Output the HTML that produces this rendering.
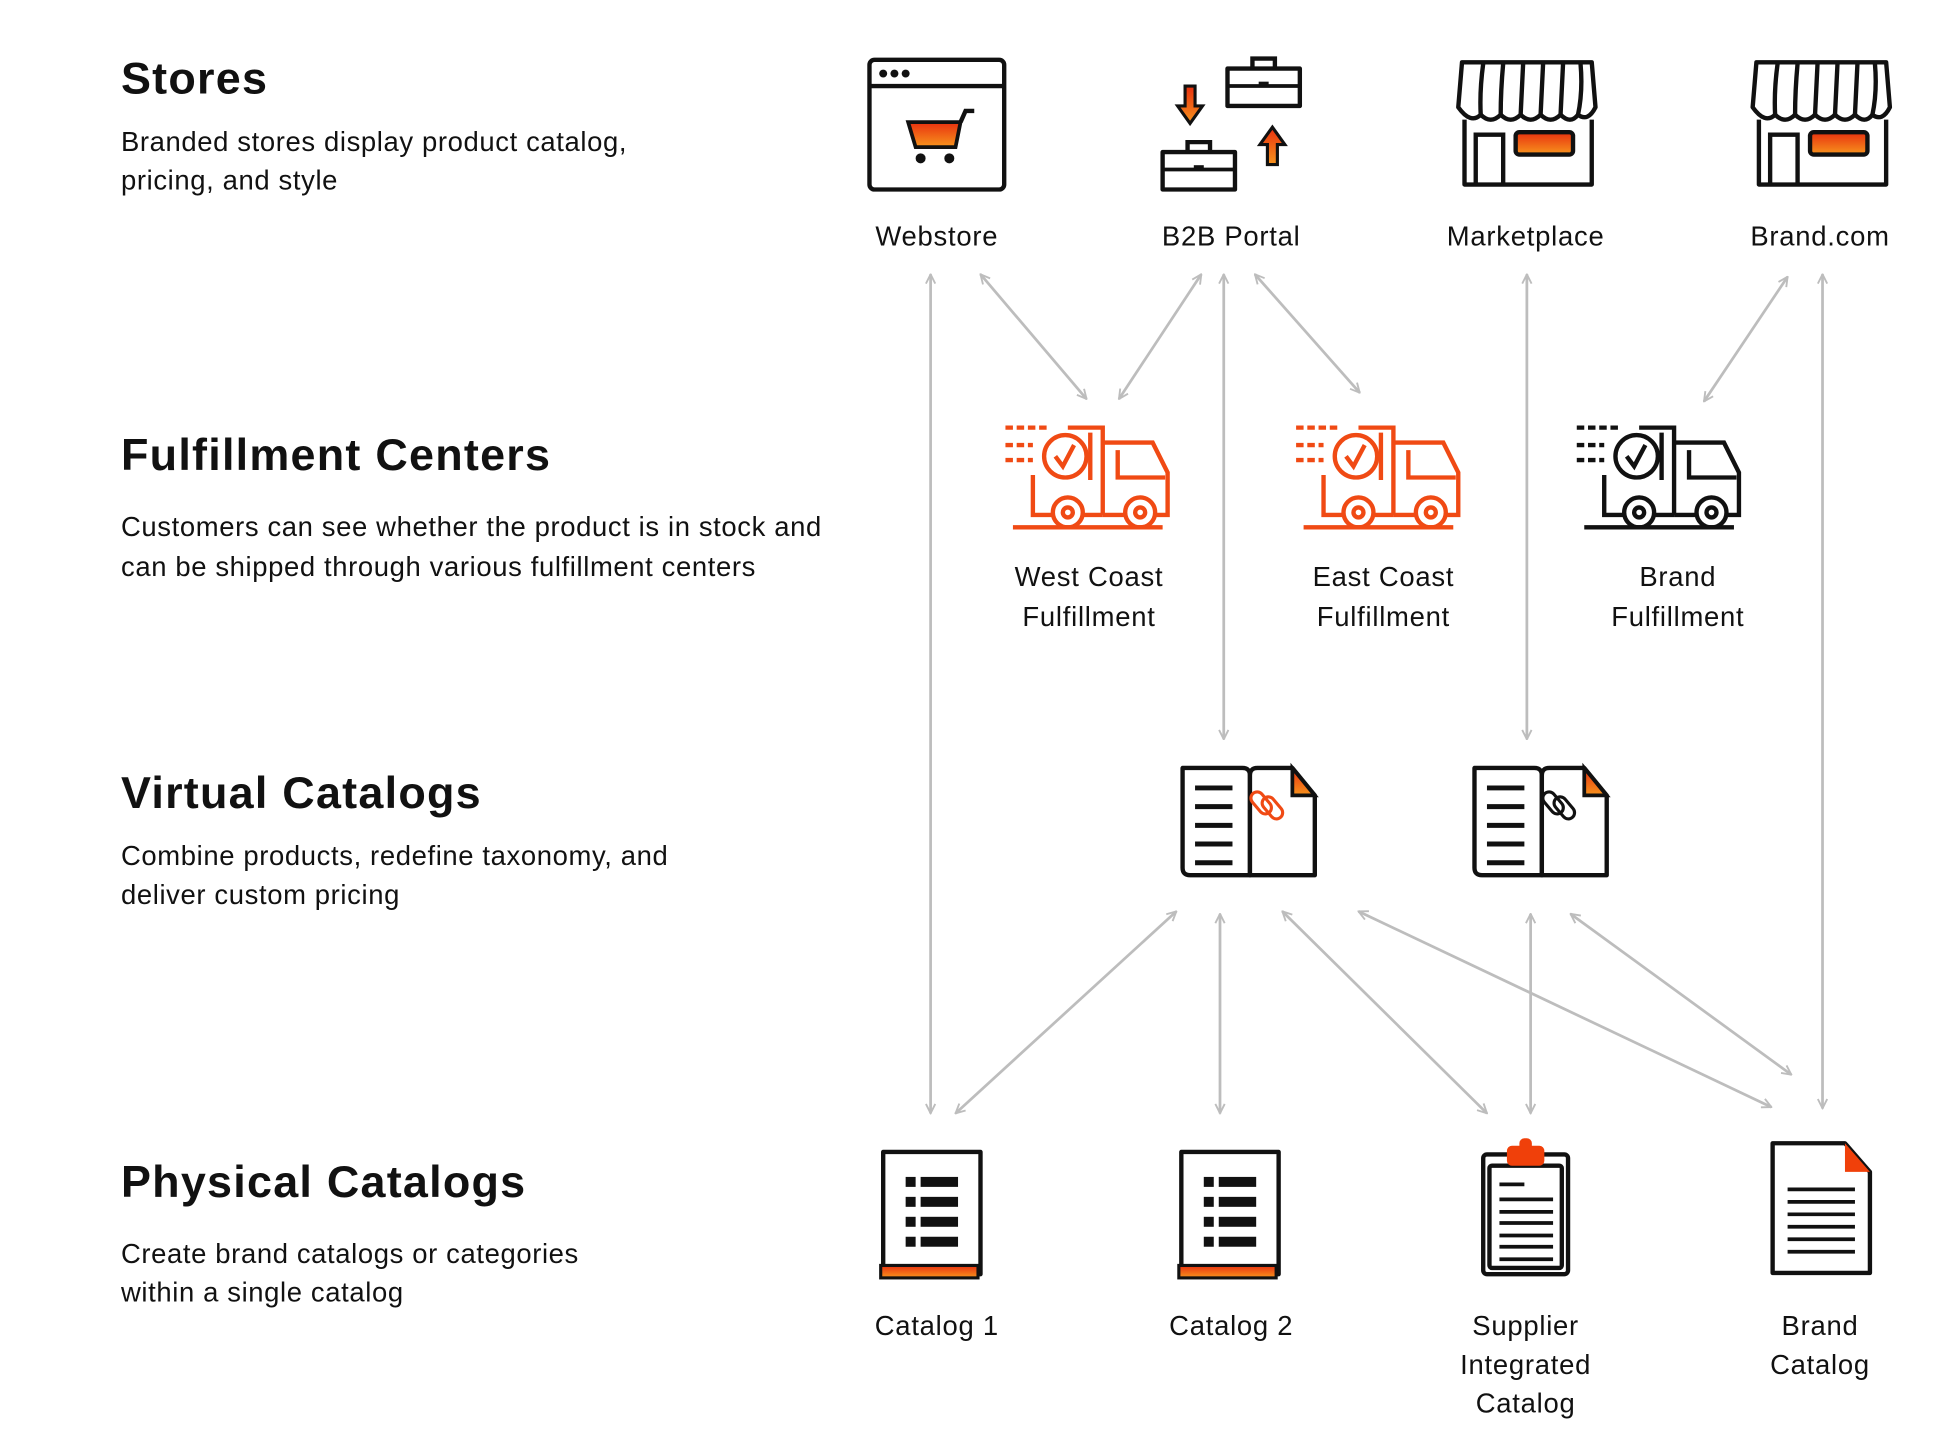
<!DOCTYPE html>
<html><head><meta charset="utf-8"><style>
html,body{margin:0;padding:0;background:#fff;}
svg{display:block;}
text{font-family:"Liberation Sans",sans-serif;fill:#111;}
.t{font-size:36px;font-weight:bold;letter-spacing:1px;}
.d{font-size:22px;letter-spacing:0.5px;}
.l{font-size:22px;letter-spacing:0.6px;text-anchor:middle;}
.a{stroke:#bdbdbd;stroke-width:2.2;fill:none;marker-start:url(#ah);marker-end:url(#ah);}
.k{stroke:#111;stroke-width:3.5;fill:#fff;stroke-linejoin:round;}
.o{stroke:#f04a14;stroke-width:3.5;fill:none;}
.b{stroke:#111;stroke-width:3.5;fill:none;}
</style></head><body>
<svg width="1956" height="1430" viewBox="0 0 1568 1147" preserveAspectRatio="none" xmlns="http://www.w3.org/2000/svg">
<defs>
<marker id="ah" viewBox="0 0 12 12" refX="11" refY="6" markerWidth="9" markerHeight="9" orient="auto-start-reverse" markerUnits="userSpaceOnUse">
<path d="M1,1 L11,6 L1,11" fill="none" stroke="#bdbdbd" stroke-width="2"/>
</marker>
<linearGradient id="g" x1="0" y1="0" x2="0" y2="1"><stop offset="0" stop-color="#e8300f"/><stop offset="1" stop-color="#f7941d"/></linearGradient>
<linearGradient id="g2" x1="0" y1="1" x2="0" y2="0"><stop offset="0" stop-color="#f7941d"/><stop offset="1" stop-color="#e8300f"/></linearGradient>
<g id="truck">
<line x1="0" y1="2" x2="34" y2="2" stroke-dasharray="6 3"/>
<line x1="0" y1="16" x2="22" y2="16" stroke-dasharray="6 3"/>
<line x1="0" y1="28" x2="22" y2="28" stroke-dasharray="6 3"/>
<circle cx="48" cy="25" r="17"/>
<path d="M40,25 l6,8 l9,-17"/>
<path d="M50,2 H78 V72 M68,6 V44"/>
<path d="M22,40 V72 H78"/>
<path d="M78,14 H118 L130,38 V72 H78 M90,20 V42 H128"/>
<circle cx="50" cy="70" r="12" fill="#fff"/><circle cx="50" cy="70" r="4"/>
<circle cx="108" cy="70" r="12" fill="#fff"/><circle cx="108" cy="70" r="4"/>
<line x1="6" y1="82" x2="126" y2="82"/>
</g>
<g id="store">
<path class="k" d="M5,48 V100 H107 V48"/>
<path class="k" d="M3,2 H107 L110,38 Q104,50 96,44 Q90,52 82,44 Q74,52 66,44 Q58,52 50,44 Q42,52 34,44 Q26,52 18,44 Q10,52 0,38 Z"/>
<path class="b" d="M20,3 Q17,25 18,44 M36,3 Q34,25 34,44 M52,3 Q51,25 50,44 M68,3 Q67,25 66,44 M84,3 Q83,25 82,44 M98,3 Q100,25 96,44"/>
<path class="b" d="M14,100 V60 H36 V100"/>
<rect x="46" y="58" width="46" height="18" rx="3" fill="url(#g)" stroke="#111" stroke-width="3.5"/>
</g>
<g id="book">
<path class="k" d="M2,2 H50 Q56,2 56,8 V88 H8 Q2,88 2,82 Z"/>
<path class="k" d="M56,8 Q56,2 62,2 H90 L108,24 V88 H56 Z"/>
<path d="M90,2 L108,24 H90 Z" fill="url(#g2)" stroke="#111" stroke-width="3"/>
<g stroke="#111" stroke-width="4"><line x1="12" y1="18" x2="42" y2="18"/><line x1="12" y1="33" x2="42" y2="33"/><line x1="12" y1="48" x2="42" y2="48"/><line x1="12" y1="63" x2="42" y2="63"/><line x1="12" y1="78" x2="42" y2="78"/></g>
</g>
<g id="cat">
<rect class="k" x="2" y="2" width="78" height="98"/>
<rect x="0" y="93" width="78" height="10" fill="url(#g)" stroke="#111" stroke-width="2.5"/>
<g fill="#111"><rect x="20" y="22" width="8" height="8"/><rect x="32" y="22" width="30" height="8"/><rect x="20" y="38" width="8" height="8"/><rect x="32" y="38" width="30" height="8"/><rect x="20" y="54" width="8" height="8"/><rect x="32" y="54" width="30" height="8"/><rect x="20" y="70" width="8" height="8"/><rect x="32" y="70" width="30" height="8"/></g>
</g>
<g id="case">
<rect class="k" x="2" y="12" width="58" height="30"/><line x1="2" y1="26" x2="60" y2="26" stroke="#111" stroke-width="3"/>
<path class="b" d="M22,12 V4 H40 V12"/><line x1="27" y1="24" x2="35" y2="24" stroke="#111" stroke-width="3"/>
</g>
</defs>

<text class="t" x="97" y="75">Stores</text>
<text class="d" x="97" y="121">Branded stores display product catalog,</text>
<text class="d" x="97" y="152">pricing, and style</text>
<text class="t" x="97" y="377">Fulfillment Centers</text>
<text class="d" x="97" y="430">Customers can see whether the product is in stock and</text>
<text class="d" x="97" y="462">can be shipped through various fulfillment centers</text>
<text class="t" x="97" y="648">Virtual Catalogs</text>
<text class="d" x="97" y="694">Combine products, redefine taxonomy, and</text>
<text class="d" x="97" y="725">deliver custom pricing</text>
<text class="t" x="97" y="960">Physical Catalogs</text>
<text class="d" x="97" y="1013">Create brand catalogs or categories</text>
<text class="d" x="97" y="1044">within a single catalog</text>

<line class="a" x1="746" y1="220" x2="746" y2="893"/>
<line class="a" x1="786" y1="220" x2="871" y2="320"/>
<line class="a" x1="963" y1="220" x2="897" y2="320"/>
<line class="a" x1="981" y1="220" x2="981" y2="593"/>
<line class="a" x1="1006" y1="220" x2="1090" y2="315"/>
<line class="a" x1="1224" y1="220" x2="1224" y2="593"/>
<line class="a" x1="1433" y1="222" x2="1366" y2="322"/>
<line class="a" x1="1461" y1="220" x2="1461" y2="889"/>
<line class="a" x1="943" y1="731" x2="766" y2="893"/>
<line class="a" x1="978" y1="733" x2="978" y2="893"/>
<line class="a" x1="1028" y1="731" x2="1192" y2="893"/>
<line class="a" x1="1089" y1="731" x2="1420" y2="888"/>
<line class="a" x1="1227" y1="733" x2="1227" y2="893"/>
<line class="a" x1="1259" y1="733" x2="1436" y2="862"/>

<rect class="k" x="697" y="48" width="108" height="104" rx="4"/>
<line x1="697" y1="69" x2="805" y2="69" stroke="#111" stroke-width="3.5"/>
<circle cx="708" cy="59" r="3.2" fill="#111"/><circle cx="717" cy="59" r="3.2" fill="#111"/><circle cx="726" cy="59" r="3.2" fill="#111"/>
<path d="M728,98 H770 L766,118 H734 Z" fill="url(#g)" stroke="#111" stroke-width="3"/>
<path class="b" d="M770,98 L774,89 H781"/>
<circle cx="738" cy="127" r="4" fill="#111"/><circle cx="761" cy="127" r="4" fill="#111"/>
<text class="l" x="751" y="197">Webstore</text>

<use href="#case" x="930" y="110"/>
<use href="#case" x="982" y="43"/>
<path d="M950,69 h8 v16 h6 l-10,14 l-10,-14 h6 z" fill="url(#g)" stroke="#111" stroke-width="2.5"/>
<path d="M1016,132 h8 v-16 h6 l-10,-14 l-10,14 h6 z" fill="url(#g2)" stroke="#111" stroke-width="2.5"/>
<text class="l" x="987" y="197">B2B Portal</text>

<use href="#store" x="1169" y="48"/>
<text class="l" x="1223" y="197">Marketplace</text>
<use href="#store" x="1405" y="48"/>
<text class="l" x="1459" y="197">Brand.com</text>

<use href="#truck" x="806" y="341" class="o"/>
<use href="#truck" x="1039" y="341" class="o"/>
<use href="#truck" x="1264" y="341" class="b"/>
<text class="l" x="873" y="470">West Coast</text><text class="l" x="873" y="502">Fulfillment</text>
<text class="l" x="1109" y="470">East Coast</text><text class="l" x="1109" y="502">Fulfillment</text>
<text class="l" x="1345" y="470">Brand</text><text class="l" x="1345" y="502">Fulfillment</text>

<use href="#book" x="946" y="614"/>
<g fill="none" stroke="#f04a14" stroke-width="2.5"><rect x="1006" y="634" width="10" height="20" rx="5" transform="rotate(-40 1011 644)"/><rect x="1015" y="638" width="10" height="20" rx="5" transform="rotate(-40 1020 648)"/></g>
<use href="#book" x="1180" y="614"/>
<g fill="none" stroke="#111" stroke-width="2.5"><rect x="1240" y="634" width="10" height="20" rx="5" transform="rotate(-40 1245 644)"/><rect x="1249" y="638" width="10" height="20" rx="5" transform="rotate(-40 1254 648)"/></g>

<use href="#cat" x="706" y="922"/>
<use href="#cat" x="945" y="922"/>
<text class="l" x="751" y="1071">Catalog 1</text>
<text class="l" x="987" y="1071">Catalog 2</text>

<rect class="k" x="1189" y="926" width="68" height="96" rx="3"/>
<rect class="k" x="1194" y="935" width="58" height="82" rx="2" stroke-width="3"/>
<rect x="1208" y="919" width="30" height="16" rx="4" fill="#f0400a"/><rect x="1218" y="913" width="10" height="10" rx="4" fill="#f0400a"/>
<g stroke="#111" stroke-width="3"><line x1="1202" y1="950" x2="1222" y2="950"/><line x1="1202" y1="962" x2="1245" y2="962"/><line x1="1202" y1="972" x2="1245" y2="972"/><line x1="1202" y1="981" x2="1245" y2="981"/><line x1="1202" y1="991" x2="1245" y2="991"/><line x1="1202" y1="1000" x2="1245" y2="1000"/><line x1="1202" y1="1010" x2="1245" y2="1010"/></g>
<text class="l" x="1223" y="1071">Supplier</text><text class="l" x="1223" y="1102">Integrated</text><text class="l" x="1223" y="1133">Catalog</text>

<path class="k" d="M1421,917 H1479 L1499,940 V1021 H1421 Z"/>
<path d="M1479,917 L1499,940 H1479 Z" fill="#f0400a"/>
<g stroke="#111" stroke-width="3"><line x1="1433" y1="954" x2="1487" y2="954"/><line x1="1433" y1="964" x2="1487" y2="964"/><line x1="1433" y1="974" x2="1487" y2="974"/><line x1="1433" y1="984" x2="1487" y2="984"/><line x1="1433" y1="994" x2="1487" y2="994"/><line x1="1433" y1="1004" x2="1487" y2="1004"/></g>
<text class="l" x="1459" y="1071">Brand</text><text class="l" x="1459" y="1102">Catalog</text>
</svg>
</body></html>
